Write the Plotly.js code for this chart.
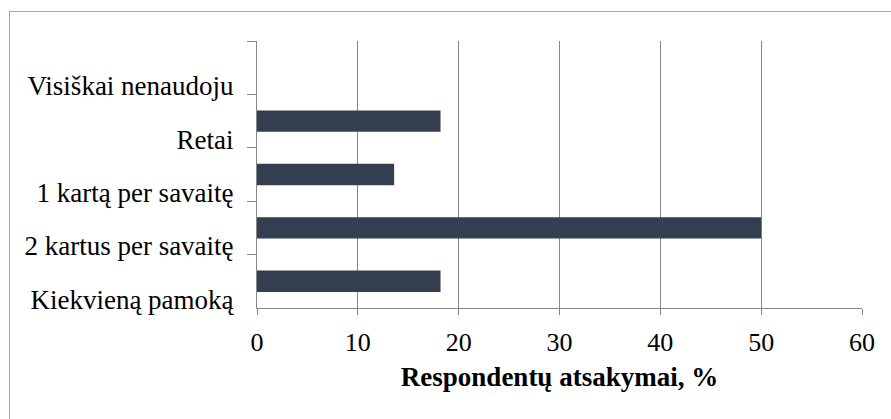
<!DOCTYPE html>
<html>
<head>
<meta charset="utf-8">
<script src="https://cdn.plot.ly/plotly-3.0.1.min.js"></script>
<style>
  html, body { margin: 0; padding: 0; background: #ffffff; }
  #wrap { position: relative; width: 891px; height: 419px; overflow: hidden; }
  #frame { position: absolute; left: 9px; top: 11px; width: 900px; height: 420px;
           border-left: 1px solid #a6a6a6; border-top: 1px solid #a6a6a6; }
  #chart { position: absolute; left: 0; top: 0; width: 891px; height: 419px; }
</style>
</head>
<body>
<div id="wrap">
  <div id="frame"></div>
  <div id="chart"></div>
</div>
<script>
const categories = [
  "Visiškai nenaudoju",
  "Retai",
  "1 kartą per savaitę",
  "2 kartus per savaitę",
  "Kiekvieną pamoką"
];
const values = [0, 18.2, 13.6, 50, 18.2];
const xTickValues = [0, 10, 20, 30, 40, 50, 60];
const xTitle = "Respondentų atsakymai, %";

const FONT = "'Liberation Serif', 'Times New Roman', serif";

const trace = {
  type: "bar",
  orientation: "h",
  x: values,
  y: categories,
  marker: { color: "#333f50", line: { width: 0 } },
  hoverinfo: "x+y"
};

const layout = {
  width: 891,
  height: 419,
  margin: { l: 257, r: 29, t: 41, b: 111 },
  paper_bgcolor: "rgba(0,0,0,0)",
  plot_bgcolor: "rgba(0,0,0,0)",
  showlegend: false,
  bargap: 0.6,
  font: { family: FONT, color: "#000000", size: 26 },
  xaxis: {
    range: [0, 60],
    tickvals: xTickValues,
    ticktext: xTickValues.map(String),
    showgrid: true,
    gridcolor: "#868686",
    gridwidth: 1,
    zeroline: false,
    showline: true,
    linecolor: "#868686",
    ticks: "outside",
    ticklen: 6,
    tickcolor: "#868686",
    tickfont: { family: FONT, size: 26 },
    ticklabelstandoff: 5,
    title: { text: "<b>" + xTitle + "</b>", font: { family: FONT, size: 27 }, standoff: 10 }
  },
  yaxis: {
    type: "category",
    categoryorder: "array",
    categoryarray: categories,
    autorange: "reversed",
    showgrid: false,
    zeroline: false,
    showline: true,
    linecolor: "#868686",
    ticks: "outside",
    tickson: "boundaries",
    ticklen: 9,
    tickcolor: "#868686",
    tickfont: { family: FONT, size: 27 },
    ticklabelshift: -18,
    ticklabelstandoff: 17
  }
};

Plotly.newPlot("chart", [trace], layout, { displayModeBar: false, staticPlot: true });
</script>
</body>
</html>
